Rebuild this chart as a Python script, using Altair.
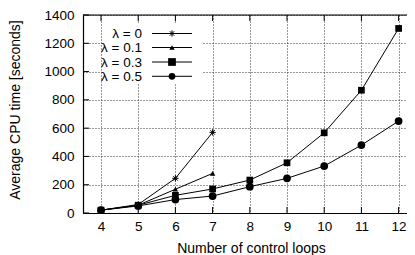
import altair as alt
import pandas as pd

FONT = "Liberation Sans"

series_names = ["λ = 0", "λ = 0.1", "λ = 0.3", "λ = 0.5"]
x_l0 = [4, 5, 6, 7]
y_l0 = [20, 60, 245, 570]
x_l01 = [4, 5, 6, 7]
y_l01 = [20, 55, 168, 280]
x_l03 = [4, 5, 6, 7, 8, 9, 10, 11, 12]
y_l03 = [20, 55, 125, 170, 233, 355, 567, 868, 1305]
x_l05 = [4, 5, 6, 7, 8, 9, 10, 11, 12]
y_l05 = [20, 50, 95, 120, 186, 245, 332, 480, 650]

x_ticks = [4, 5, 6, 7, 8, 9, 10, 11, 12]
y_ticks = [0, 200, 400, 600, 800, 1000, 1200, 1400]

rows = []
for name, xs, ys in zip(series_names, [x_l0, x_l01, x_l03, x_l05], [y_l0, y_l01, y_l03, y_l05]):
    for a, b in zip(xs, ys):
        rows.append({"series": name, "x": a, "y": b})
df = pd.DataFrame(rows)

W, H = 324, 198
PXU = 37.2
x0 = 4 - 18 / PXU
xscale = alt.Scale(domain=[x0, x0 + W / PXU], nice=False, zero=False)
yscale = alt.Scale(domain=[0, 1400], nice=False)

ASTERISK = "M-1,0L1,0M0,-1L0,1M-0.7,-0.7L0.7,0.7M-0.7,0.7L0.7,-0.7"

xaxis = alt.Axis(values=x_ticks, title="Number of control loops", grid=True,
                 gridColor="#333", gridDash=[1, 2], gridWidth=1,
                 ticks=False, domain=True, domainColor="black", domainWidth=1.2,
                 labelPadding=6, labelOverlap=False, format="d",
                 labelFontSize=13.5, titleFontSize=14, titleFontWeight="normal",
                 titleX=168, titleY=35.5, titleAlign="center", titleBaseline="middle",
                 labelFont=FONT, titleFont=FONT, labelColor="#000", titleColor="#000")
yaxis = alt.Axis(values=y_ticks, title="Average CPU time [seconds]", grid=True,
                 gridColor="#333", gridDash=[1, 2], gridWidth=1,
                 ticks=False, domain=True, domainColor="black", domainWidth=1.2,
                 labelPadding=9, labelOverlap=False, format="d",
                 labelFontSize=13.5, titleFontSize=14, titleFontWeight="normal",
                 titleX=-68, titleY=94.5, titleAlign="center", titleBaseline="middle",
                 labelFont=FONT, titleFont=FONT, labelColor="#000", titleColor="#000")

base = alt.Chart(df)

lines = base.mark_line(color="black", strokeWidth=1, clip=True).encode(
    x=alt.X("x:Q", scale=xscale, axis=xaxis),
    y=alt.Y("y:Q", scale=yscale, axis=yaxis),
    detail="series:N",
)

filled_pts = base.transform_filter(alt.datum.series != "λ = 0").mark_point(
    filled=True, color="black", opacity=1, clip=True).encode(
    x=alt.X("x:Q", scale=xscale, axis=xaxis),
    y=alt.Y("y:Q", scale=yscale, axis=yaxis),
    shape=alt.Shape("series:N", scale=alt.Scale(domain=series_names[1:],
                                                range=["triangle-up", "square", "circle"]),
                    legend=None),
    size=alt.Size("series:N", scale=alt.Scale(domain=series_names[1:], range=[30, 60, 45]),
                  legend=None),
)

star_pts = base.transform_filter(alt.datum.series == "λ = 0").mark_point(
    shape=ASTERISK, filled=False, color="black", strokeWidth=1, size=40, opacity=1, clip=True).encode(
    x=alt.X("x:Q", scale=xscale, axis=xaxis),
    y=alt.Y("y:Q", scale=yscale, axis=yaxis),
)

xt = pd.DataFrame({"x": x_ticks})
yt = pd.DataFrame({"y": y_ticks})
xtick_bottom = alt.Chart(xt).mark_rule(color="black", strokeWidth=1).encode(
    x=alt.X("x:Q", scale=xscale, axis=xaxis), y=alt.value(H), y2=alt.value(H - 6))
xtick_top = alt.Chart(xt).mark_rule(color="black", strokeWidth=1).encode(
    x=alt.X("x:Q", scale=xscale, axis=xaxis), y=alt.value(0), y2=alt.value(6))
ytick_left = alt.Chart(yt).mark_rule(color="black", strokeWidth=1).encode(
    y=alt.Y("y:Q", scale=yscale, axis=yaxis), x=alt.value(0), x2=alt.value(6))
top_line = alt.Chart(pd.DataFrame({"a": [0]})).mark_rule(color="black", strokeWidth=1.2).encode(
    x=alt.value(0), x2=alt.value(W), y=alt.value(0))

# legend box (opaque, like gnuplot key)
leg_box = alt.Chart(pd.DataFrame({"a": [0]})).mark_rect(color="white").encode(
    x=alt.value(20), x2=alt.value(120), y=alt.value(9), y2=alt.value(69))

legend_layers = [leg_box]
leg_y = [18.5, 32.5, 47, 61.3]
leg_shapes = [ASTERISK, "triangle-up", "square", "circle"]
leg_sizes = [40, 30, 60, 45]
for name, yy, shp, sz in zip(series_names, leg_y, leg_shapes, leg_sizes):
    d = pd.DataFrame({"label": [name]})
    c = alt.Chart(d)
    legend_layers.append(c.mark_text(align="right", baseline="middle", font=FONT,
                                     fontSize=13.5, color="black").encode(
        text="label:N", x=alt.value(59), y=alt.value(yy + 0.5)))
    legend_layers.append(c.mark_rule(color="black", strokeWidth=1).encode(
        x=alt.value(69), x2=alt.value(109), y=alt.value(yy)))
    legend_layers.append(c.mark_point(shape=shp, filled=(shp != ASTERISK), color="black",
                                      size=sz, opacity=1, strokeWidth=1).encode(
        x=alt.value(89), y=alt.value(yy)))

chart = alt.layer(
    lines, filled_pts, star_pts, xtick_bottom, xtick_top, ytick_left, top_line, *legend_layers
).properties(
    width=W, height=H,
    autosize=alt.AutoSizeParams(type="none"),
    padding={"left": 75, "top": 7, "right": 0, "bottom": 47},
).configure_view(stroke=None).configure(background="white")

chart.save("out.html", embed_options={"renderer": "svg", "actions": False})
